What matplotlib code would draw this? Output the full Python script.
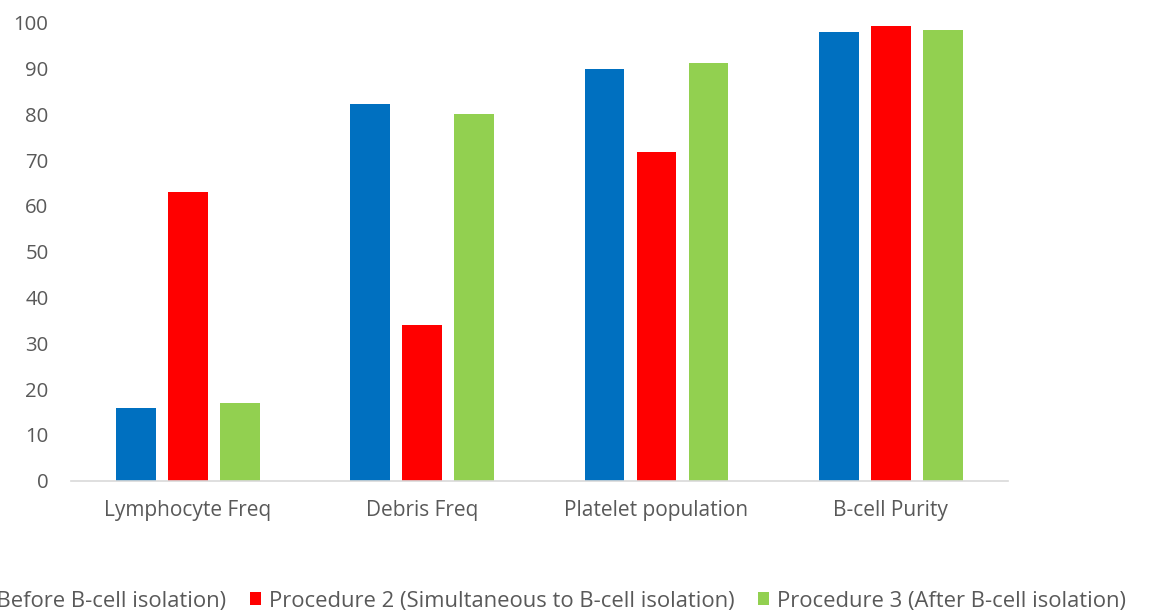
import matplotlib
matplotlib.use("Agg")
import matplotlib.pyplot as plt
import numpy as np

categories = ["Lymphocyte Freq", "Debris Freq", "Platelet population", "B-cell Purity"]
series_names = [
    "Procedure 1 (Before B-cell isolation)",
    "Procedure 2 (Simultaneous to B-cell isolation)",
    "Procedure 3 (After B-cell isolation)",
]
procedure1 = [15.8, 82.2, 90.0, 97.9]
procedure2 = [63.0, 34.1, 71.7, 99.3]
procedure3 = [17.0, 80.0, 91.3, 98.3]
y_ticks = [0, 10, 20, 30, 40, 50, 60, 70, 80, 90, 100]

colors = ["#0070C0", "#FF0000", "#92D050"]
text_color = "#595959"

plt.rcParams["font.family"] = ["Open Sans", "DejaVu Sans"]

fig = plt.figure(figsize=(11.49, 6.11), dpi=100)
ax = fig.add_axes([70.7 / 1149, 130.3 / 611, (1008 - 70.7) / 1149, 458 / 611])

x = np.arange(len(categories))
width = 0.17
pitch = 0.222
for i, (vals, name, c) in enumerate(zip([procedure1, procedure2, procedure3], series_names, colors)):
    ax.bar(x + (i - 1) * pitch, vals, width, color=c, label=name)

ax.set_xlim(-0.5, len(categories) - 0.5)
ax.set_ylim(0, 100)
ax.set_yticks(y_ticks)
ax.set_xticks(x)
ax.set_xticklabels(categories)
ax.tick_params(axis="y", length=0, pad=16, labelsize=14.7, labelcolor=text_color)
ax.tick_params(axis="x", length=0, pad=14, labelsize=15, labelcolor=text_color)
for side in ["top", "right", "left"]:
    ax.spines[side].set_visible(False)
ax.spines["bottom"].set_color("#D9D9D9")
ax.spines["bottom"].set_linewidth(1.2)

handles, labels = ax.get_legend_handles_labels()
leg = fig.legend(handles, labels, loc="center right", bbox_to_anchor=(1126 / 1149, 10 / 611),
                 ncol=3, frameon=False, fontsize=15.8, handlelength=0.5, handleheight=0.5,
                 handletextpad=0.35, columnspacing=1.1, borderaxespad=0, borderpad=0)
for t in leg.get_texts():
    t.set_color(text_color)

fig.savefig("out.png", dpi=100, facecolor="white")
